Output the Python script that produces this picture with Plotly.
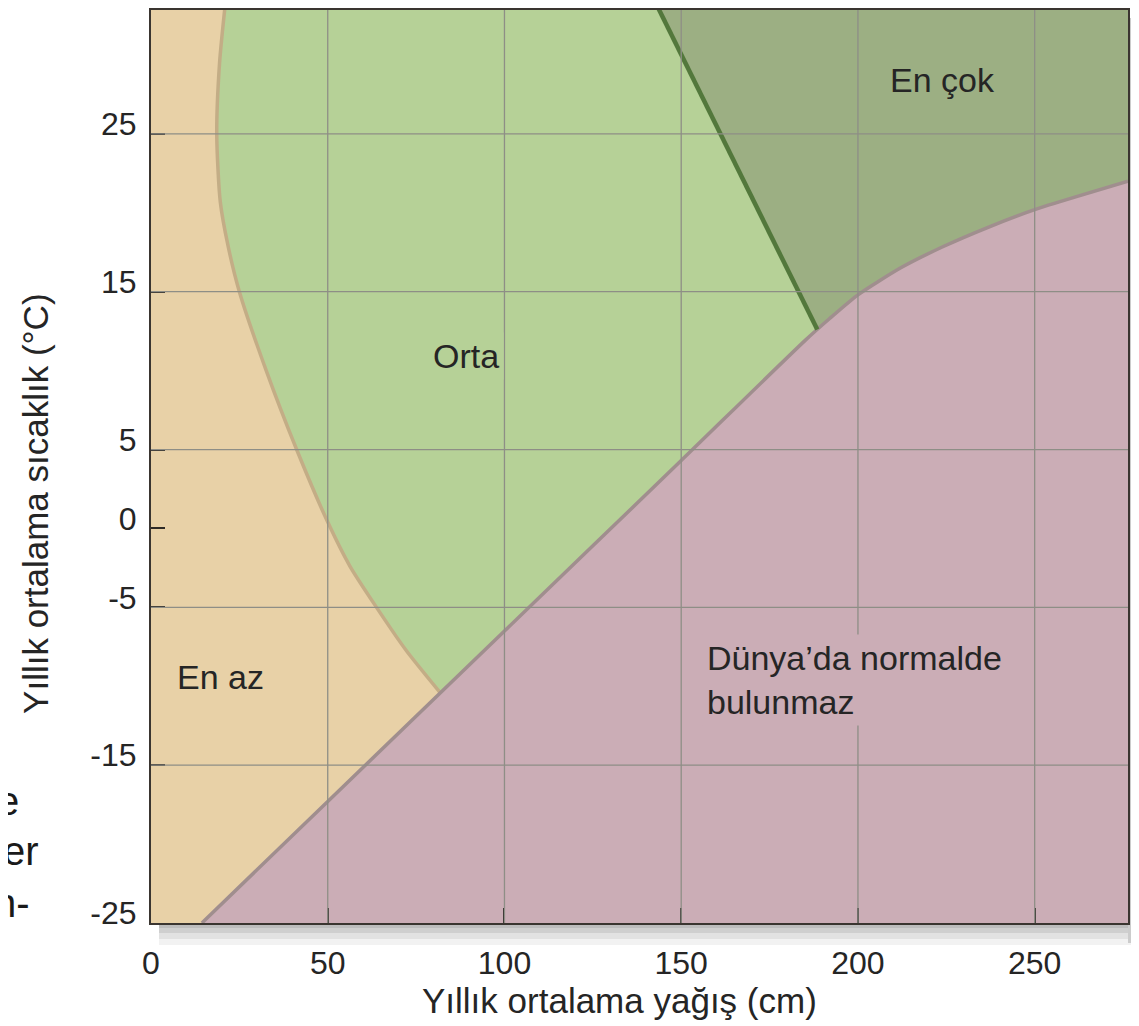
import numpy as np
import plotly.graph_objects as go

# ---------------- data ----------------
# axis ticks
x_ticks = [0, 50, 100, 150, 200, 250]
y_ticks = [25, 15, 5, 0, -5, -15, -25]
x_grid = [50, 100, 150, 200, 250]
y_grid = [25, 15, 5, -5, -15]
X_MAX = 276.4
Y_MIN = -25
Y_MAX = 32.85

# boundary: "En az" / "Orta" (dry limit)
dry_x = [21.0, 19.4, 18.6, 19.6, 21.8, 25.0, 32.6, 41.2, 49.8, 56.3, 63.8, 72.1, 81.8]
dry_y = [33.2, 29.5, 25.0, 20.7, 17.9, 15.0, 10.0, 5.0, 0.5, -2.4, -5.0, -7.7, -10.4]

# boundary: "Orta" / "En çok"
wet_x = [143, 188.5]
wet_y = [33.2, 12.6]

# boundary: climate space limit ("Dünya'da normalde bulunmaz" below)
lim_x = [14.4, 50, 100, 150, 185, 192, 200, 212, 224, 237, 250, 263, 276.4]
lim_y = [-25, -17.3, -6.5, 4.3, 11.9, 13.3, 14.8, 16.5, 17.85, 19.1, 20.2, 21.1, 22.0]

labels = ["En çok", "Orta", "En az", "Dünya’da normalde<br>bulunmaz"]
label_x = [224, 89.2, 19.6, 156]
label_y = [28.4, 10.9, -9.4, -9.6]

# ---------------- style ----------------
FONT = "Liberation Sans, Arial, Helvetica, sans-serif"
C_TAN = "#E8D1A7"
C_GREEN = "#B6D197"
C_DGREEN = "#9CAF83"
C_PINK = "#CBADB6"
C_GRID = "#8E8E86"
C_TXT = "#252525"

PAGE_W, PAGE_H = 1139, 1026
OFF = 8                      # default body margin of the html page
W, H = PAGE_W - OFF, PAGE_H - OFF
ML, MR, MT, MB = 143, 11, 0, 103
PW, PH = W - ML - MR, H - MT - MB


def px2paper(px, py):
    """page pixel -> paper coordinates"""
    xf, yf = px - OFF, py - OFF
    return (xf - ML) / PW, (H - MB - yf) / PH


fig = go.Figure()

# base (dry) region
fig.add_trace(go.Scatter(
    x=[0, X_MAX, X_MAX, 0, 0], y=[Y_MIN, Y_MIN, Y_MAX, Y_MAX, Y_MIN],
    fill="toself", fillcolor=C_TAN, mode="none", hoverinfo="skip"))

# medium region (lower part hidden by the pink region)
fig.add_trace(go.Scatter(
    x=dry_x + [X_MAX, X_MAX, dry_x[0]],
    y=dry_y + [Y_MIN, dry_y[0], dry_y[0]],
    fill="toself", fillcolor=C_GREEN, mode="none", hoverinfo="skip"))

# wettest region
fig.add_trace(go.Scatter(
    x=wet_x + [X_MAX, X_MAX, wet_x[0]],
    y=wet_y + [Y_MIN, wet_y[0], wet_y[0]],
    fill="toself", fillcolor=C_DGREEN, mode="none", hoverinfo="skip"))

# not-found region
fig.add_trace(go.Scatter(
    x=lim_x + [X_MAX, lim_x[0]],
    y=lim_y + [Y_MIN, lim_y[0]],
    fill="toself", fillcolor=C_PINK, mode="none", hoverinfo="skip"))

# boundary lines
fig.add_trace(go.Scatter(x=dry_x, y=dry_y, mode="lines",
                         line=dict(color="#C3AD86", width=3.5, shape="spline", smoothing=0.7),
                         hoverinfo="skip"))
fig.add_trace(go.Scatter(x=lim_x, y=lim_y, mode="lines",
                         line=dict(color="#A08E8E", width=3.5, shape="spline", smoothing=0.6),
                         hoverinfo="skip"))
fig.add_trace(go.Scatter(x=wet_x, y=wet_y, mode="lines",
                         line=dict(color="#53783C", width=4.5), hoverinfo="skip"))

# grid lines above fills
for v in x_grid:
    fig.add_shape(type="line", x0=v, x1=v, y0=Y_MIN, y1=Y_MAX, xref="x", yref="y",
                  line=dict(color=C_GRID, width=1.3), layer="above")
for v in y_grid:
    fig.add_shape(type="line", x0=0, x1=X_MAX, y0=v, y1=v, xref="x", yref="y",
                  line=dict(color=C_GRID, width=1.3), layer="above")

# drop shadow (outside the plot frame)
PLOT_L, PLOT_R, PLOT_T, PLOT_B = 151, 1128, 8, 923
for k, col in zip([22, 16, 10, 5], ["#f2f2f2", "#e2e2e2", "#cfcfcf", "#bdbdbd"]):
    x0, y0 = px2paper(PLOT_L + 8, PLOT_B + k)
    x1, y1 = px2paper(PLOT_R + min(k, 11), PLOT_B)
    fig.add_shape(type="rect", xref="paper", yref="paper", x0=x0, x1=x1, y0=y0, y1=y1,
                  fillcolor=col, line=dict(width=0), layer="below")
for k, col in zip([11, 7, 3], ["#eeeeee", "#dddddd", "#cccccc"]):
    x0, y0 = px2paper(PLOT_R, PLOT_B + 20)
    x1, y1 = px2paper(PLOT_R + k, PLOT_T + 8)
    fig.add_shape(type="rect", xref="paper", yref="paper", x0=x0, x1=x1, y0=y0, y1=y1,
                  fillcolor=col, line=dict(width=0), layer="below")

# region labels
bgs = [C_DGREEN, C_GREEN, C_TAN, C_PINK]
aligns = ["center", "center", "center", "left"]
xanchors = ["center", "center", "center", "left"]
for t, lx, ly, bg, al, xa in zip(labels, label_x, label_y, bgs, aligns, xanchors):
    fig.add_annotation(x=lx, y=ly, xref="x", yref="y", text=t, showarrow=False,
                       align=al, xanchor=xa, yanchor="middle", bgcolor=bg, borderpad=4,
                       font=dict(family=FONT, size=34, color=C_TXT))

# axis titles
ax, ay = px2paper(619, 1001)
fig.add_annotation(x=ax, y=ay, xref="paper", yref="paper",
                   text="Yıllık ortalama yağış (cm)", showarrow=False,
                   xanchor="center", yanchor="middle",
                   font=dict(family=FONT, size=35, color=C_TXT))
ax, ay = px2paper(36, 503)
fig.add_annotation(x=ax, y=ay, xref="paper", yref="paper",
                   text="Yıllık ortalama sıcaklık (°C)", showarrow=False, textangle=-90,
                   xanchor="center", yanchor="middle",
                   font=dict(family=FONT, size=35, color=C_TXT))

# cut-off page text on the left (partly outside the page, as in the source)
for t, rx, cy in zip(["e", "er", "n-"], [20, 40, 31], [801, 851, 903]):
    ax, ay = px2paper(rx, cy)
    fig.add_annotation(x=ax, y=ay, xref="paper", yref="paper", text=t, showarrow=False,
                       xanchor="right", yanchor="middle", borderpad=0,
                       font=dict(family=FONT, size=40, color="#1a1a1a"))

axis_common = dict(showgrid=False, zeroline=False, showline=True, mirror=True,
                   linecolor="#3A3530", linewidth=2, ticks="inside",
                   tickcolor="#2E2A26", tickwidth=2, layer="above traces",
                   tickfont=dict(family=FONT, size=32, color=C_TXT), fixedrange=True)

fig.update_xaxes(range=[0, X_MAX], tickvals=x_ticks, ticktext=[str(v) for v in x_ticks],
                 ticklen=15, ticklabelstandoff=11, **axis_common)
fig.update_yaxes(range=[Y_MIN, Y_MAX], tickvals=y_ticks, ticktext=[str(v) for v in y_ticks],
                 ticklen=14, ticklabelstandoff=6, ticklabelshift=-10, **axis_common)

fig.update_layout(width=W, height=H, autosize=False,
                  margin=dict(l=ML, r=MR, t=MT, b=MB),
                  paper_bgcolor="white", plot_bgcolor=C_TAN,
                  showlegend=False, font=dict(family=FONT))

fig.write_html("out.html")
